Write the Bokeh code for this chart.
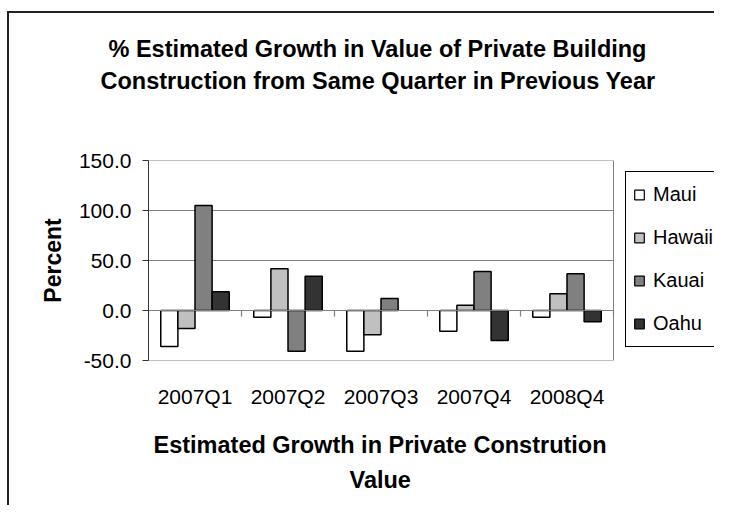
from bokeh.plotting import figure
from bokeh.models import (Range1d, FixedTicker, NumeralTickFormatter, Title,
                          Legend, LegendItem, InlineStyleSheet)
from bokeh.embed import file_html
from bokeh.resources import INLINE

# ---- data ----
quarters = ["2007Q1", "2007Q2", "2007Q3", "2007Q4", "2008Q4"]
maui = [-36.0, -6.7, -40.7, -20.7, -6.7]
hawaii = [-18.0, 41.7, -24.3, 5.3, 16.7]
kauai = [105.0, -40.7, 12.0, 39.0, 36.7]
oahu = [18.7, 34.3, float("nan"), -30.0, -11.3]   # no value shown for 2007Q3
series_names = ["Maui", "Hawaii", "Kauai", "Oahu"]
series_values = [maui, hawaii, kauai, oahu]
series_colors = ["#FFFFFF", "#C0C0C0", "#808080", "#333333"]
y_ticks = [-50, 0, 50, 100, 150]
title_lines = ["% Estimated Growth in Value of Private Building",
               "Construction from Same Quarter in Previous Year"]
xtitle_lines = ["Estimated Growth in Private Constrution", "Value"]
ytitle = "Percent"

FONT = "Liberation Sans"

n_cat = len(quarters)
cat_pos = list(range(1, n_cat + 1))          # category centres on the x scale
cat_lo, cat_hi = 0.5, n_cat + 0.5
y_lo, y_hi = y_ticks[0], y_ticks[-1]

# outer chart border (host background, visible through the transparent border fill)
border_css = InlineStyleSheet(css="""
:host {
  background-color: white;
  background-image: linear-gradient(#222222, #222222), linear-gradient(#222222, #222222);
  background-position: 7px 11px, 7px 11px;
  background-size: 2px 100%, 100% 2px;
  background-repeat: no-repeat;
}
""")

W, H = 714, 505
left_b, top_b, bottom_b = 148, 160, 145
frame_w = W - left_b
cat_px = 93.0
p = figure(width=W, height=H,
           x_range=Range1d(cat_lo, cat_lo + frame_w / cat_px),
           y_range=Range1d(y_lo, y_hi),
           output_backend="svg", toolbar_location=None,
           min_border_left=left_b, min_border_right=0,
           min_border_top=top_b, min_border_bottom=bottom_b,
           background_fill_color="white", border_fill_alpha=0)
p.stylesheets = [border_css]
p.outline_line_color = None
p.xgrid.grid_line_color = None
p.ygrid.grid_line_color = None
p.title.text = ""

# plot-area gridlines / border, limited to the category extent
grid_vals = [v for v in y_ticks if v != 0]
p.segment(x0=[cat_lo] * len(grid_vals), x1=[cat_hi] * len(grid_vals),
          y0=grid_vals, y1=grid_vals, line_color="#808080", line_width=1)
p.segment(x0=[cat_hi], x1=[cat_hi], y0=[y_lo], y1=[y_hi], line_color="#808080", line_width=1)

# bars
bar_w = 0.184
offsets = [-1.5 * bar_w, -0.5 * bar_w, 0.5 * bar_w, 1.5 * bar_w]
for vals, col, off in zip(series_values, series_colors, offsets):
    p.vbar(x=[c + off for c in cat_pos], top=vals, bottom=0, width=bar_w,
           fill_color=col, line_color="black", line_width=1.5)

# category axis line at zero with tick marks between categories
p.segment(x0=[cat_lo], x1=[cat_hi], y0=[0], y1=[0], line_color="#808080", line_width=1.2)
bounds = [c - 0.5 for c in cat_pos] + [cat_hi]
p.segment(x0=bounds, x1=bounds, y0=[0] * len(bounds), y1=[-6] * len(bounds),
          line_color="#808080", line_width=1.2)

# y axis
p.yaxis.ticker = FixedTicker(ticks=y_ticks)
p.yaxis.formatter = NumeralTickFormatter(format="0.0")
p.yaxis.major_label_text_font = FONT
p.yaxis.major_label_text_font_size = "21px"
p.yaxis.major_label_text_color = "black"
p.yaxis.axis_line_color = "#333333"
p.yaxis.major_tick_line_color = "#333333"
p.yaxis.major_tick_out = 6
p.yaxis.major_tick_in = 0
p.yaxis.minor_tick_line_color = None
p.yaxis.major_label_standoff = 11
p.yaxis.axis_label = ytitle
p.yaxis.axis_label_text_font = FONT
p.yaxis.axis_label_text_font_size = "23px"
p.yaxis.axis_label_text_font_style = "bold"
p.yaxis.axis_label_text_color = "black"
p.yaxis.axis_label_standoff = 10

# x axis (category labels below the plot area)
p.xaxis.ticker = FixedTicker(ticks=cat_pos)
p.xaxis.major_label_overrides = {c: q for c, q in zip(cat_pos, quarters)}
p.xaxis.axis_line_color = None
p.xaxis.major_tick_line_color = None
p.xaxis.minor_tick_line_color = None
p.xaxis.major_tick_out = 0
p.xaxis.major_tick_in = 0
p.xaxis.major_label_standoff = 24
p.xaxis.major_label_text_font = FONT
p.xaxis.major_label_text_font_size = "21px"
p.xaxis.major_label_text_color = "black"


def title_line(text, offset, standoff, size="23.5px", valign="bottom"):
    return Title(text=text, align="left", offset=offset, standoff=standoff,
                 vertical_align=valign, text_font=FONT, text_font_size=size,
                 text_font_style="bold", text_color="black")


# chart title: stacked from the plot area outwards (spacer, line 2, line 1)
p.add_layout(Title(text=" ", text_font_size="1px", standoff=59), "above")
p.add_layout(title_line(title_lines[1], -48, 9), "above")
p.add_layout(title_line(title_lines[0], -40, 0), "above")

# x-axis title below the category labels
p.add_layout(Title(text=" ", text_font_size="1px", standoff=15), "below")
p.add_layout(title_line(xtitle_lines[0], 5, 6, valign="top"), "below")
p.add_layout(title_line(xtitle_lines[1], 201, 8, valign="top"), "below")

# legend (marker swatches, renderers kept outside the visible range)
items = []
for name, col in zip(series_names, series_colors):
    r = p.scatter(x=[cat_pos[0]], y=[y_lo - 1000], marker="square", size=10,
                  fill_color=col, line_color="black", line_width=1.2)
    items.append(LegendItem(label=name, renderers=[r]))

legend = Legend(items=items, location=(477, 13), orientation="vertical",
                glyph_width=24, glyph_height=43, label_height=43, spacing=0,
                padding=1, margin=0, label_standoff=2,
                border_line_color="black", border_line_width=1, border_line_alpha=1,
                background_fill_color="white", background_fill_alpha=1,
                label_text_font=FONT, label_text_font_size="20px",
                label_text_color="black")
p.add_layout(legend)

open("out.html", "w").write(file_html(p, INLINE))
